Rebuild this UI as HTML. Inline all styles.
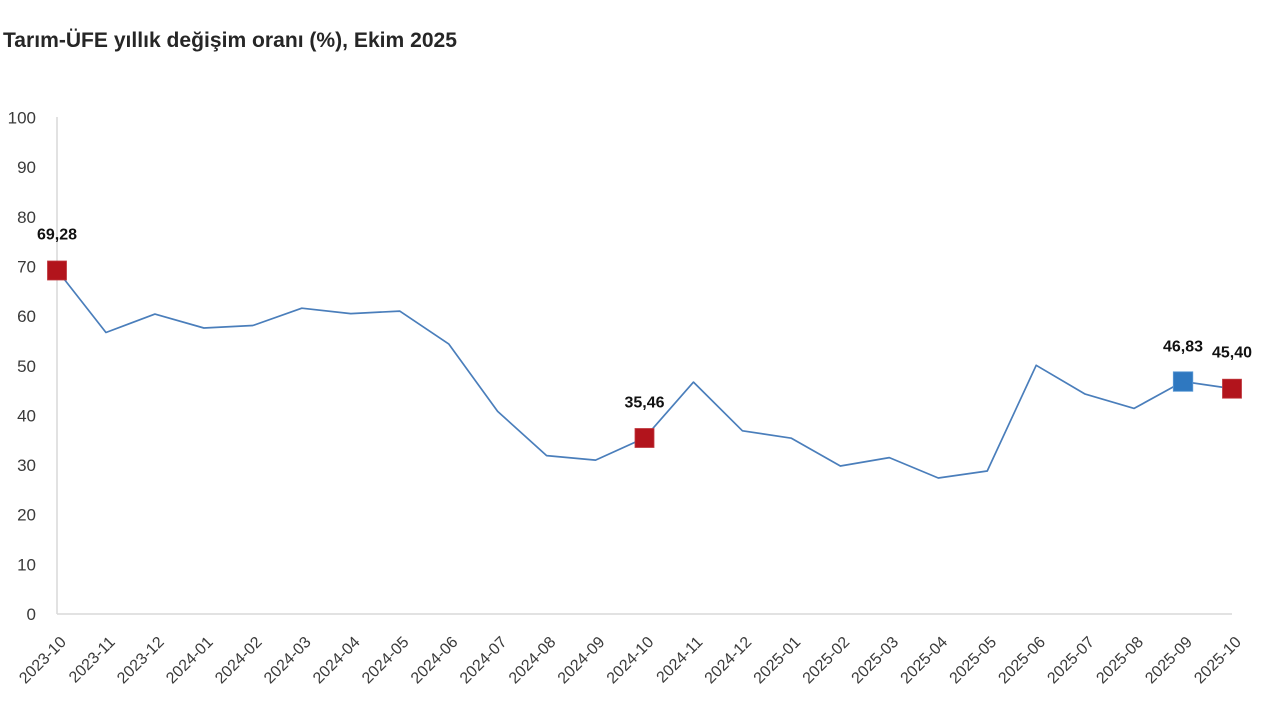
<!DOCTYPE html>
<html>
<head>
<meta charset="utf-8">
<style>
  html, body { margin: 0; padding: 0; background: #ffffff; }
  body { width: 1280px; height: 720px; overflow: hidden; }
  svg { display: block; }
  text { font-family: "Liberation Sans", "DejaVu Sans", sans-serif; }
</style>
</head>
<body>
<svg width="1280" height="720" viewBox="0 0 1280 720" xmlns="http://www.w3.org/2000/svg">
  <rect x="0" y="0" width="1280" height="720" fill="#ffffff"/>

  <!-- Title -->
  <text x="3" y="47" font-size="21" font-weight="bold" fill="#262626" textLength="454" lengthAdjust="spacingAndGlyphs">Tarım-ÜFE yıllık değişim oranı (%), Ekim 2025</text>

  <!-- Axes -->
  <line x1="57" y1="117" x2="57" y2="614" stroke="#d9d9d9" stroke-width="1.5"/>
  <line x1="57" y1="614" x2="1232" y2="614" stroke="#d9d9d9" stroke-width="1.5"/>

  <!-- Y labels -->
  <g font-size="17" fill="#3a3a3a" text-anchor="end">
    <text x="36" y="620">0</text>
    <text x="36" y="570.4">10</text>
    <text x="36" y="520.7">20</text>
    <text x="36" y="471.1">30</text>
    <text x="36" y="421.4">40</text>
    <text x="36" y="371.8">50</text>
    <text x="36" y="322.1">60</text>
    <text x="36" y="272.5">70</text>
    <text x="36" y="222.8">80</text>
    <text x="36" y="173.2">90</text>
    <text x="36" y="123.5">100</text>
  </g>

  <!-- X labels -->
  <g font-size="16" fill="#3a3a3a" text-anchor="end">
    <text transform="translate(67,643) rotate(-45)">2023-10</text>
    <text transform="translate(115.96,643) rotate(-45)">2023-11</text>
    <text transform="translate(164.92,643) rotate(-45)">2023-12</text>
    <text transform="translate(213.88,643) rotate(-45)">2024-01</text>
    <text transform="translate(262.84,643) rotate(-45)">2024-02</text>
    <text transform="translate(311.8,643) rotate(-45)">2024-03</text>
    <text transform="translate(360.76,643) rotate(-45)">2024-04</text>
    <text transform="translate(409.72,643) rotate(-45)">2024-05</text>
    <text transform="translate(458.68,643) rotate(-45)">2024-06</text>
    <text transform="translate(507.64,643) rotate(-45)">2024-07</text>
    <text transform="translate(556.6,643) rotate(-45)">2024-08</text>
    <text transform="translate(605.56,643) rotate(-45)">2024-09</text>
    <text transform="translate(654.52,643) rotate(-45)">2024-10</text>
    <text transform="translate(703.48,643) rotate(-45)">2024-11</text>
    <text transform="translate(752.44,643) rotate(-45)">2024-12</text>
    <text transform="translate(801.4,643) rotate(-45)">2025-01</text>
    <text transform="translate(850.36,643) rotate(-45)">2025-02</text>
    <text transform="translate(899.32,643) rotate(-45)">2025-03</text>
    <text transform="translate(948.28,643) rotate(-45)">2025-04</text>
    <text transform="translate(997.24,643) rotate(-45)">2025-05</text>
    <text transform="translate(1046.2,643) rotate(-45)">2025-06</text>
    <text transform="translate(1095.16,643) rotate(-45)">2025-07</text>
    <text transform="translate(1144.12,643) rotate(-45)">2025-08</text>
    <text transform="translate(1193.08,643) rotate(-45)">2025-09</text>
    <text transform="translate(1242.04,643) rotate(-45)">2025-10</text>
  </g>

  <!-- Series line -->
  <polyline fill="none" stroke="#4A7EBB" stroke-width="1.7" stroke-linejoin="round"
    points="57,270 105.96,332.5 154.92,314.1 203.88,328 252.84,325.5 301.8,308.2 350.76,313.6 399.72,311.1 448.68,343.9 497.64,411.4 546.6,455.6 595.56,460.1 644.52,437.9 693.48,382.1 742.44,430.8 791.4,438.2 840.36,466 889.32,457.6 938.28,478 987.24,471 1036.2,365.3 1085.16,394.1 1134.12,408.4 1183.08,381.5 1232.04,388.6"/>

  <!-- Markers -->
  <rect x="47.5" y="261" width="19" height="19" fill="#B2141C" stroke="#C0393F" stroke-width="0.8"/>
  <rect x="635" y="428.5" width="19" height="19" fill="#B2141C" stroke="#C0393F" stroke-width="0.8"/>
  <rect x="1173.3" y="371.8" width="19.5" height="19.5" fill="#2F78C0" stroke="#5B9AD6" stroke-width="0.8"/>
  <rect x="1222.5" y="379.2" width="19" height="19" fill="#B2141C" stroke="#C0393F" stroke-width="0.8"/>

  <!-- Data labels -->
  <g font-size="16" font-weight="bold" fill="#111111" text-anchor="middle">
    <text x="57" y="239.5" textLength="40" lengthAdjust="spacingAndGlyphs">69,28</text>
    <text x="644.5" y="407.5" textLength="40" lengthAdjust="spacingAndGlyphs">35,46</text>
    <text x="1183" y="351.5" textLength="40" lengthAdjust="spacingAndGlyphs">46,83</text>
    <text x="1232" y="357.5" textLength="40" lengthAdjust="spacingAndGlyphs">45,40</text>
  </g>
</svg>
</body>
</html>
